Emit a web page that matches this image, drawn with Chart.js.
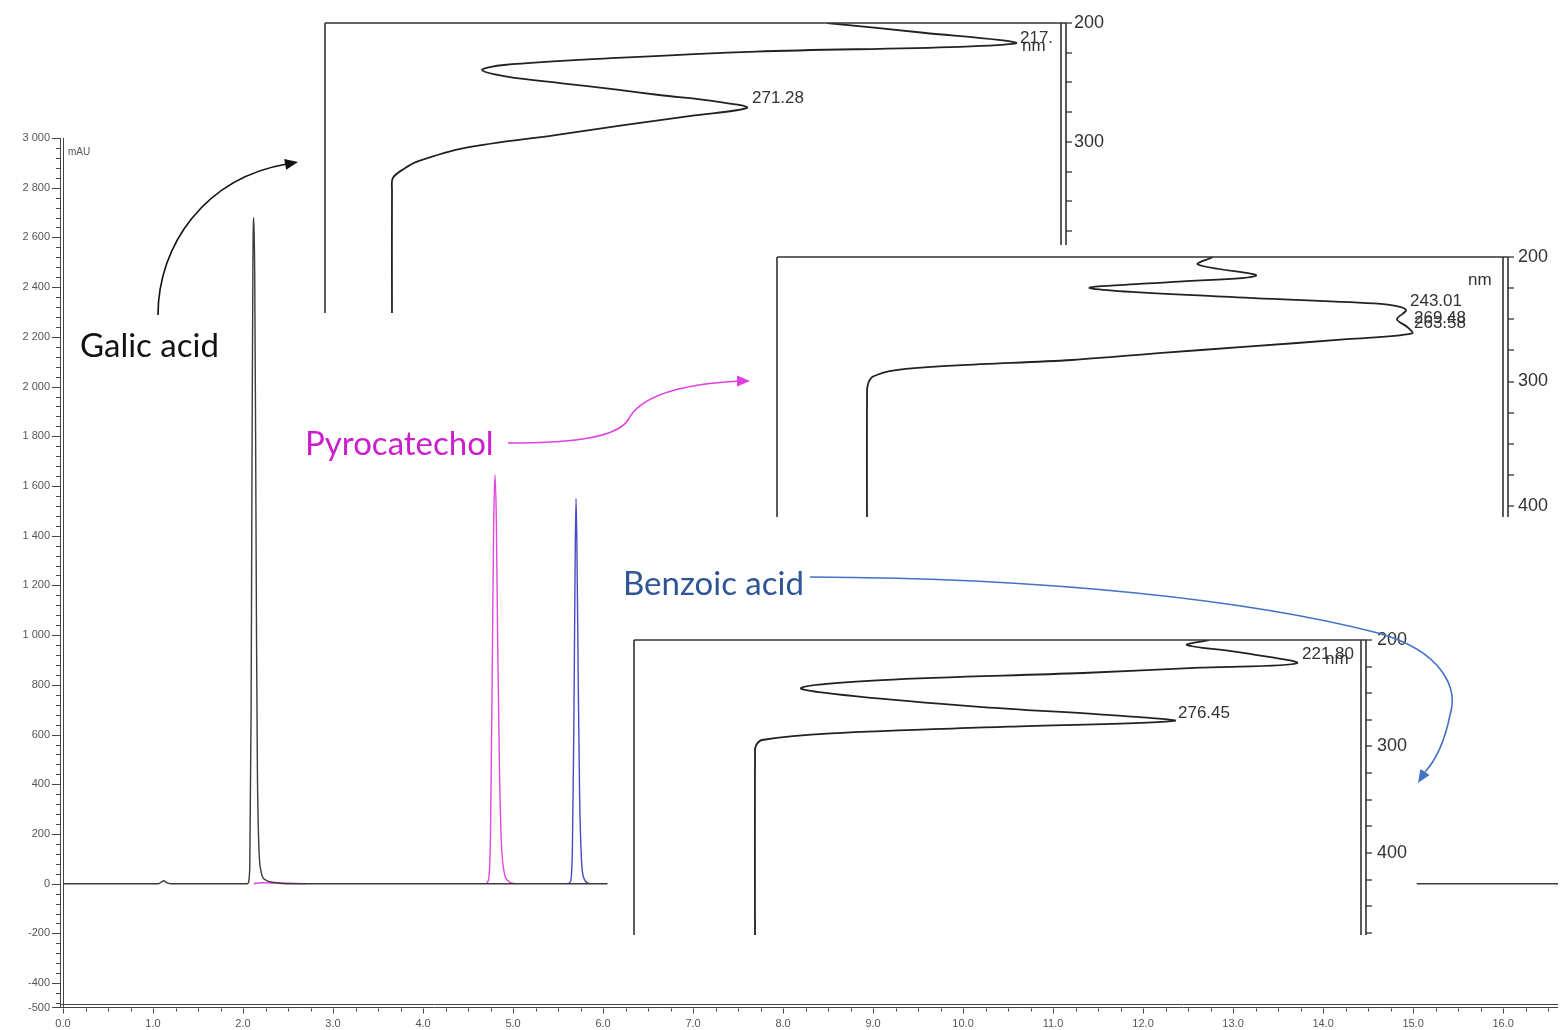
<!DOCTYPE html>
<html><head><meta charset="utf-8">
<script src="https://cdn.jsdelivr.net/npm/chart.js@4.4.1/dist/chart.umd.min.js"></script>
<style>
html,body{margin:0;padding:0;background:#fff;}
#wrap{position:relative;width:1560px;height:1030px;overflow:hidden;background:#fff;}
#wrap canvas{position:absolute;}
.lbl{position:absolute;font-family:Lato,'Open Sans',sans-serif;font-size:33px;line-height:33px;white-space:nowrap;}
</style></head><body>
<div id="wrap">
<canvas id="main" width="1560" height="1030" style="left:0;top:0;width:1560px;height:1030px"></canvas>
<canvas id="s1" width="800" height="301" style="left:318px;top:12px;width:800px;height:301px"></canvas>
<canvas id="s3" width="788" height="307" style="left:628px;top:628px;width:788px;height:307px"></canvas>
<canvas id="s2" width="792" height="272" style="left:768px;top:245px;width:792px;height:272px"></canvas>
<canvas id="ov" width="1560" height="1030" style="left:0;top:0;width:1560px;height:1030px"></canvas>
<div class="lbl" style="left:80px;top:328px;color:#111">Galic acid</div>
<div class="lbl" style="left:305px;top:426px;color:#cc1fcc">Pyrocatechol</div>
<div class="lbl" style="left:623px;top:566px;color:#2f5597">Benzoic acid</div>
</div>
<script>
// ---------- Main chromatogram data (time in min, signal in mAU) ----------
const timeTicks = [0,1,2,3,4,5,6,7,8,9,10,11,12,13,14,15,16];
const mauTicks = [-500,-400,-200,0,200,400,600,800,1000,1200,1400,1600,1800,2000,2200,2400,2600,2800,3000];

const gallicTime   = [0, 1.06, 1.10, 1.12, 1.15, 1.20, 2.05, 2.075, 2.09, 2.10, 2.11, 2.12, 2.13, 2.14, 2.15, 2.16, 2.175, 2.20, 2.25, 2.35, 2.5, 6.05, 6.06, 15.04, 16.61];
const gallicSignal = [0, 0, 8, 12, 4, 0, 0, 60, 700, 1700, 2500, 2680, 2450, 1800, 1000, 450, 160, 50, 15, 5, 0, 0, null, 0, 0];

const pyroTime   = [2.12, 2.2, 2.4, 2.6, 2.7, 2.71, 4.70, 4.73, 4.75, 4.77, 4.785, 4.80, 4.815, 4.83, 4.85, 4.87, 4.90, 4.95, 5.02];
const pyroSignal = [0, 4, 3, 1, 0, null, 0, 20, 200, 900, 1450, 1644, 1450, 950, 450, 170, 50, 10, 0];

const benzoTime   = [5.60, 5.64, 5.66, 5.675, 5.69, 5.70, 5.71, 5.725, 5.74, 5.76, 5.79, 5.85];
const benzoSignal = [0, 10, 150, 600, 1300, 1550, 1350, 800, 350, 100, 20, 0];

// ---------- UV spectra (wavelength nm, absorbance mAU) ----------
const spectrumTicksNm = [200, 300, 400];

const gallicSpecNm  = [200, 208, 216.5, 220, 224, 229.6, 235.3, 239.5, 245, 250.7, 256, 260.5, 266, 271.3, 278, 286, 294, 305, 316.5, 322, 330, 340, 444];
const gallicSpecAbs = [870, 1058, 1248, 1136, 728, 438, 224, 180, 230, 340, 450, 534, 650, 710, 598, 460, 330, 146, 50, 26, 2, 0, 0];

const pyroSpecNm  = [200, 206, 215, 220, 225, 231.9, 237.3, 240, 243, 250, 256, 261.3, 266, 272, 277, 282.7, 287, 290.8, 296, 302, 310, 409];
const pyroSpecAbs = [692, 662, 778, 612, 446, 712, 1014, 1066, 1078, 1060, 1080, 1090, 960, 760, 590, 410, 180, 58, 12, 2, 0, 0];

const benzoSpecNm  = [200, 204.7, 211, 221.8, 226, 231, 237.6, 245, 253, 263, 270.4, 276, 281.4, 287.6, 293.9, 299, 305, 477];
const benzoSpecAbs = [908, 864, 960, 1084, 890, 656, 254, 92, 204, 456, 706, 838, 506, 152, 14, 2, 0, 0];

// peak annotations: [text, nm, abs]
const gallicNotes = [['217.', 216.5, 1248], ['nm', 216.5, 1248], ['271.28', 271.3, 710]];
const pyroNotes   = [['243.01', 243, 1078], ['269.48', 261.3, 1090], ['263.58', 261.3, 1090]];
const benzoNotes  = [['221.80', 221.8, 1084], ['nm', 221.8, 1084], ['276.45', 276, 838]];

function zip(xs, ys){ return xs.map((x,i)=>({x:x, y:ys[i]})); }
function zipSpec(nm, ab){ return nm.map((l,i)=>({x:ab[i], y:l})); }
function fmtThousands(v){ const s = String(Math.abs(v)).replace(/\B(?=(\d{3})+(?!\d))/g, ' '); return (v<0?'-':'') + s; }

const AX = '#444';
const numFont = "'Liberation Sans', Arial, sans-serif";

function hline(ctx,x1,x2,y){ ctx.beginPath(); ctx.moveTo(x1,y); ctx.lineTo(x2,y); ctx.stroke(); }
function vline(ctx,x,y1,y2){ ctx.beginPath(); ctx.moveTo(x,y1); ctx.lineTo(x,y2); ctx.stroke(); }

// ---------- Main chart ----------
const mainDecor = {
  id:'mainDecor',
  afterDraw(chart){
    const ctx = chart.ctx, a = chart.chartArea, xs = chart.scales.x, ys = chart.scales.y;
    ctx.save();
    ctx.strokeStyle = AX; ctx.lineWidth = 1;
    const L = Math.round(a.left)+0.5, B = Math.round(a.bottom)-0.5;
    vline(ctx, L, a.top, a.bottom);
    vline(ctx, L-3, a.top, a.bottom);
    hline(ctx, a.left-3, a.right, B);
    hline(ctx, a.left-3, a.right, B-3);
    for (let v=-480; v<=3000; v+=40){
      const py = Math.round(ys.getPixelForValue(v))+0.5;
      const major = (v % 200 === 0);
      hline(ctx, major?52:56, L-3, py);
    }
    hline(ctx, 52, L-3, Math.round(ys.getPixelForValue(-500))-0.5);
    for (let k=0; k<=66; k++){
      const t = k*0.25;
      const px = Math.round(xs.getPixelForValue(t))+0.5;
      vline(ctx, px, B+1, B + ((k%4===0)?6:4));
    }
    ctx.fillStyle = '#555';
    ctx.font = "10px " + numFont;
    ctx.textBaseline = 'alphabetic';
    ctx.fillText('mAU', a.left+5, a.top+17);
    ctx.restore();
  }
};

new Chart(document.getElementById('main'), {
  type:'line',
  data:{ datasets:[
    { data: zip(gallicTime, gallicSignal), borderColor:'#3c3c3c', borderWidth:1.4 },
    { data: zip(pyroTime, pyroSignal), borderColor:'#e048e0', borderWidth:1.4 },
    { data: zip(benzoTime, benzoSignal), borderColor:'#4a4ac8', borderWidth:1.4 }
  ]},
  options:{
    responsive:false, animation:false, devicePixelRatio:1,
    parsing:true, spanGaps:false,
    layout:{ padding:{ top:138, right:2, left:0, bottom:0 } },
    plugins:{ legend:{display:false}, tooltip:{enabled:false} },
    elements:{ point:{radius:0}, line:{cubicInterpolationMode:'monotone'} },
    scales:{
      x:{ type:'linear', min:0, max:16.61,
          afterBuildTicks:s=>{ s.ticks = timeTicks.map(v=>({value:v})); },
          afterFit:s=>{ s.height = 22; },
          grid:{display:false, drawTicks:false}, border:{display:false},
          ticks:{ padding:9, color:'#555', font:{family:numFont, size:11}, maxRotation:0, autoSkip:false,
                  callback:v=>Number(v).toFixed(1) } },
      y:{ type:'linear', min:-500, max:3000,
          afterBuildTicks:s=>{ s.ticks = mauTicks.map(v=>({value:v})); },
          afterFit:s=>{ s.width = 63; },
          grid:{display:false, drawTicks:false}, border:{display:false},
          ticks:{ padding:13, color:'#555', font:{family:numFont, size:11}, autoSkip:false,
                  callback:v=>fmtThousands(v) } }
    }
  },
  plugins:[mainDecor]
});

// ---------- Inset spectra ----------
function makeInset(id, nm, ab, notes, cfg){
  const decor = {
    id:'insetDecor',
    beforeDraw(chart){
      const ctx = chart.ctx; ctx.save(); ctx.fillStyle='#fff'; ctx.fillRect(0,0,chart.width,chart.height); ctx.restore();
    },
    afterDraw(chart){
      const ctx = chart.ctx, a = chart.chartArea, xs = chart.scales.x, ys = chart.scales.y;
      ctx.save();
      ctx.strokeStyle = '#333'; ctx.lineWidth = 1.6;
      const R = Math.round(a.right), T = Math.round(a.top), Lf = Math.round(a.left);
      hline(ctx, Lf, R+5, T);
      vline(ctx, Lf, T, a.bottom);
      vline(ctx, R, T, a.bottom);
      vline(ctx, R+5, T, a.bottom);
      ctx.lineWidth = 1.3;
      for (let l=200; l<=cfg.nmMax; l+=25){
        const py = Math.round(ys.getPixelForValue(l));
        hline(ctx, R+5, R+11, py);
      }
      ctx.fillStyle = '#333';
      ctx.font = "17px " + numFont;
      ctx.textBaseline = 'alphabetic';
      ctx.beginPath(); ctx.rect(a.left, a.top, a.right-a.left-2, a.bottom-a.top); ctx.clip();
      notes.forEach((n,i)=>{
        const off = cfg.offsets[i];
        const px = xs.getPixelForValue(n[2]) + off[0];
        const py = ys.getPixelForValue(n[1]) + off[1];
        ctx.fillText(n[0], px, py);
      });
      if (cfg.nmLabel){
        ctx.fillText('nm', a.right + cfg.nmLabel[0], a.top + cfg.nmLabel[1]);
      }
      ctx.restore();
    }
  };
  return new Chart(document.getElementById(id), {
    type:'line',
    data:{ datasets:[{ data: zipSpec(nm, ab), borderColor:'#222', borderWidth:1.8, tension:0.35, pointRadius:0 }] },
    options:{
      responsive:false, animation:false, devicePixelRatio:1,
      layout:{ padding:{ left:cfg.padL, top:cfg.padT, right:0, bottom:0 } },
      plugins:{ legend:{display:false}, tooltip:{enabled:false} },
      scales:{
        x:{ type:'linear', display:false, min:cfg.xmin, max:cfg.xmax },
        y:{ type:'linear', position:'right', reverse:true, min:200, max:cfg.nmMax,
            afterBuildTicks:s=>{ s.ticks = spectrumTicksNm.filter(v=>v<=cfg.nmMax).map(v=>({value:v})); },
            afterFit:s=>{ s.width = cfg.axisW; s.paddingTop = 0; s.paddingBottom = 0; },
            grid:{display:false, drawTicks:false}, border:{display:false},
            ticks:{ padding:cfg.tickPad, color:'#333', font:{family:numFont, size:18}, autoSkip:false } }
      }
    },
    plugins:[decor]
  });
}

const c1 = makeInset('s1', gallicSpecNm, gallicSpecAbs, gallicNotes, {
  xmin:-134, xmax:1338, nmMax:443.7, padL:7, padT:11, axisW:57, tickPad:13,
  offsets:[[4,0],[6,8],[5,-5]]
});
const c3 = makeInset('s3', benzoSpecNm, benzoSpecAbs, benzoNotes, {
  xmin:-242, xmax:1212, nmMax:477, padL:6, padT:12, axisW:55, tickPad:16,
  offsets:[[5,-4],[28,1],[4,-3]]
});
const c2 = makeInset('s2', pyroSpecNm, pyroSpecAbs, pyroNotes, {
  xmin:-180, xmax:1272, nmMax:408.8, padL:9, padT:12, axisW:57, tickPad:15,
  offsets:[[4,-5],[2,-10],[2,-5]], nmLabel:[-35, 28]
});

// ---------- Annotation arrows ----------
(function(){
  const c = document.getElementById('ov'), ctx = c.getContext('2d');
  function arrow(start, segs, tip, color){
    ctx.save();
    ctx.strokeStyle = color; ctx.fillStyle = color; ctx.lineWidth = 1.6;
    ctx.beginPath(); ctx.moveTo(start[0], start[1]);
    segs.forEach(s=>ctx.bezierCurveTo(s[0],s[1],s[2],s[3],s[4],s[5]));
    ctx.stroke();
    const last = segs[segs.length-1];
    const ex = last[4], ey = last[5];
    const ang = Math.atan2(tip[1]-ey, tip[0]-ex);
    const len = 13, w = 5.5;
    ctx.beginPath();
    ctx.moveTo(tip[0], tip[1]);
    ctx.lineTo(tip[0]-len*Math.cos(ang)+w*Math.sin(ang), tip[1]-len*Math.sin(ang)-w*Math.cos(ang));
    ctx.lineTo(tip[0]-len*Math.cos(ang)-w*Math.sin(ang), tip[1]-len*Math.sin(ang)+w*Math.cos(ang));
    ctx.closePath(); ctx.fill();
    ctx.restore();
  }
  arrow([158,315], [[158,245,205,178,287,164]], [298,162], '#111');
  arrow([508,443], [[560,443,615,440,628,420],[640,396,680,384,740,381]], [750,381], '#e040e0');
  arrow([810,577], [[1050,578,1250,600,1378,633],[1445,652,1458,690,1450,715],[1444,745,1434,762,1425,772]], [1418,783], '#4472c4');
})();
</script>
</body></html>
